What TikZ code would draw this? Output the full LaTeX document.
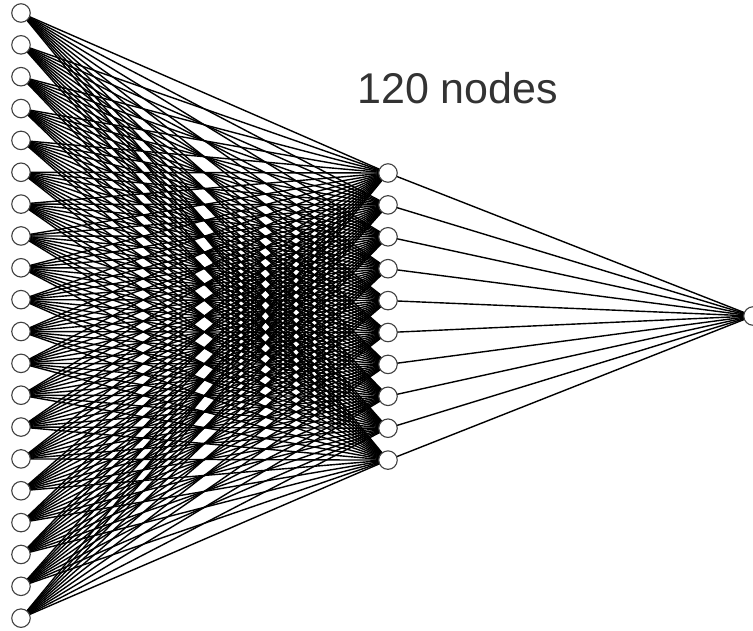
\documentclass[tikz,border=0pt]{standalone}
\usepackage{fontspec}
\setmainfont{Liberation Sans}
\usetikzlibrary{backgrounds}
\begin{document}
\begin{tikzpicture}[x=1pt,y=-1pt,
  neuron/.style={circle,draw=black!75,fill=white,line width=1.1pt,minimum size=18.5pt,inner sep=0pt},
  synapse/.style={line width=1.4pt,black}]
\useasboundingbox (0,0) rectangle (753,630);
% input layer
\foreach \i in {1,...,20}
  \node[neuron] (in\i) at (21,{13+31.85*(\i-1)}) {};
% hidden layer
\foreach \j in {1,...,10}
  \node[neuron] (h\j) at (388,{173+31.9*(\j-1)}) {};
% output layer
\node[neuron] (out) at (753,316) {};
% connections
\begin{scope}[on background layer]
  \foreach \i in {1,...,20}
    \foreach \j in {1,...,10}
      \draw[synapse] (in\i.center) -- (h\j.center);
  \foreach \j in {1,...,10}
    \draw[synapse] (h\j.center) -- (out.center);
\end{scope}
\node[anchor=base west,inner sep=0pt,text=black!80,font=\fontsize{43}{50}\selectfont] (lbl) at (357,103) {120 nodes};
\end{tikzpicture}
\end{document}
